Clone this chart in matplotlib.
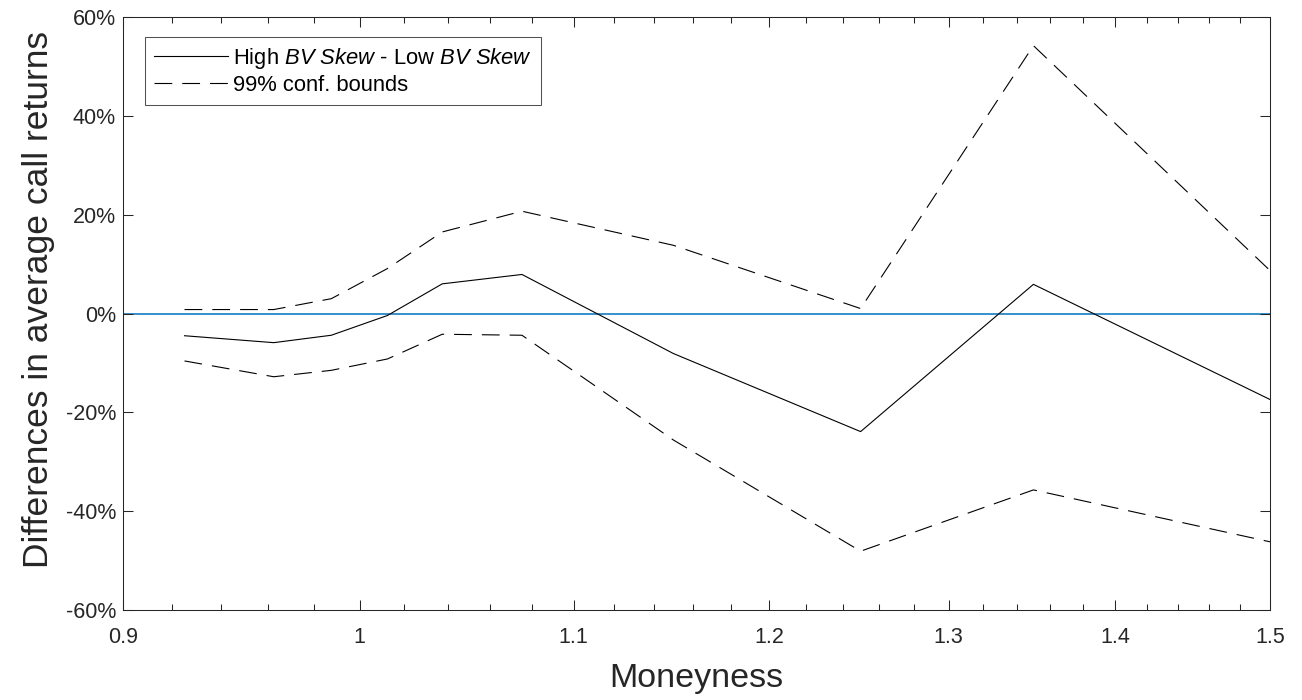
"""Difference in average call returns across moneyness, MATLAB-style figure."""

import matplotlib

matplotlib.use("Agg")

import matplotlib.pyplot as plt
import numpy as np
from matplotlib.ticker import FixedLocator, FuncFormatter, NullFormatter

# values (returns in percent)
moneyness = [0.925, 0.9625, 0.9875, 1.0125, 1.0375, 1.075, 1.15, 1.25, 1.35, 1.5]
diff_returns = [-4.5, -5.9, -4.4, -0.4, 6.0, 7.9, -8.1, -23.9, 5.9, -17.4]
upper_bound = [0.8, 0.8, 3.0, 9.1, 16.5, 20.7, 13.8, 1.0, 54.2, 8.7]
lower_bound = [-9.6, -12.8, -11.5, -9.2, -4.2, -4.4, -25.6, -48.1, -35.7, -46.2]

x_ticks = [0.9, 1.0, 1.1, 1.2, 1.3, 1.4, 1.5]
y_ticks = [-60, -40, -20, 0, 20, 40, 60]

plt.rcParams["font.family"] = ["Liberation Sans", "DejaVu Sans"]
plt.rcParams["mathtext.fontset"] = "custom"
plt.rcParams["mathtext.rm"] = "Liberation Sans"
plt.rcParams["mathtext.it"] = "Liberation Sans:italic"

AX_COLOR = "#262626"
BLUE = "#0072BD"

fig = plt.figure(figsize=(13.02, 7), dpi=100)
ax = fig.add_axes([123 / 1302, 90 / 700, 1147 / 1302, 593 / 700])

dash = (0, (16, 9))
ax.axhline(0, color=BLUE, linewidth=1.1, zorder=1)
ax.plot(moneyness, diff_returns, color="black", linewidth=0.8,
        label=r"High $\mathit{BV\ Skew}$ - Low $\mathit{BV\ Skew}$", zorder=3)
ax.plot(moneyness, upper_bound, color="black", linewidth=0.8, linestyle=dash,
        label="99% conf. bounds", zorder=3)
ax.plot(moneyness, lower_bound, color="black", linewidth=0.8, linestyle=dash, zorder=3)

ax.set_xscale("log")
ax.set_xlim(0.9, 1.5)
ax.set_ylim(-60, 60)

minor = [m for m in np.round(np.arange(0.92, 1.5, 0.02), 2) if round(m * 10, 6) % 1 != 0]
ax.xaxis.set_major_locator(FixedLocator(x_ticks))
ax.xaxis.set_minor_locator(FixedLocator(minor))
ax.xaxis.set_major_formatter(FuncFormatter(lambda v, _: f"{v:g}"))
ax.xaxis.set_minor_formatter(NullFormatter())
ax.yaxis.set_major_locator(FixedLocator(y_ticks))
ax.yaxis.set_major_formatter(FuncFormatter(lambda v, _: f"{v:.0f}%"))

ax.tick_params(which="both", direction="in", top=True, right=True,
               color=AX_COLOR, labelcolor=AX_COLOR, width=0.75)
ax.tick_params(which="major", length=7, labelsize=15.5)
ax.tick_params(axis="x", which="major", pad=12)
ax.tick_params(axis="y", which="major", pad=5)
ax.tick_params(which="minor", length=4)
for spine in ax.spines.values():
    spine.set_color(AX_COLOR)
    spine.set_linewidth(0.75)

ax.set_xlabel("Moneyness", fontsize=24.5, color=AX_COLOR, labelpad=11)
ax.set_ylabel("Differences in average call returns", fontsize=25.5, color=AX_COLOR)
ax.yaxis.set_label_coords(-0.059, 0.523)

leg = ax.legend(loc="upper left", bbox_to_anchor=(0.0192, 0.966), borderaxespad=0,
                fontsize=15.8, frameon=True, fancybox=False, handlelength=3.4,
                handletextpad=0.22, borderpad=0.4, labelspacing=0.19)
leg.get_frame().set_edgecolor(AX_COLOR)
leg.get_frame().set_linewidth(0.75)

fig.savefig("out.png", dpi=100)
plt.close(fig)
